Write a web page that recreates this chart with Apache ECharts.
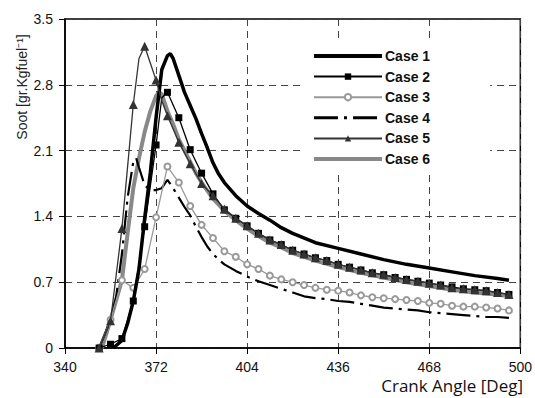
<!DOCTYPE html>
<html>
<head>
<meta charset="utf-8">
<script src="https://cdn.jsdelivr.net/npm/echarts@6/dist/echarts.min.js"></script>
<style>
  html, body { margin: 0; padding: 0; background: #fff; }
  #chart { width: 535px; height: 398px; }
</style>
</head>
<body>
<div id="chart"></div>
<script>
// crank angle ticks and soot ticks
const angleTicks = [340, 372, 404, 436, 468, 500];
const sootTicks = [0, 0.7, 1.4, 2.1, 2.8, 3.5];
const caseNames = ['Case 1', 'Case 2', 'Case 3', 'Case 4', 'Case 5', 'Case 6'];

// Case 1 - thick black
const case1Angle = [357, 360, 362, 364, 366, 368, 370, 372, 374, 376, 377, 378, 380, 382, 384, 386, 388, 390, 392, 394, 396, 400, 404, 408, 412, 416, 420, 428, 436, 444, 452, 460, 468, 476, 484, 492, 496];
const case1Soot = [0, 0.08, 0.26, 0.5, 0.84, 1.38, 1.87, 2.45, 2.96, 3.11, 3.13, 3.08, 2.9, 2.72, 2.58, 2.44, 2.28, 2.13, 1.97, 1.85, 1.76, 1.62, 1.51, 1.43, 1.36, 1.28, 1.22, 1.12, 1.06, 1.0, 0.94, 0.89, 0.85, 0.81, 0.77, 0.74, 0.72];

// Case 2 - black, squares
const case2Angle = [352, 356, 360, 364, 368, 372, 374, 376, 380, 384, 388, 392, 396, 400, 404, 408, 412, 416, 420, 424, 428, 432, 436, 440, 444, 448, 452, 456, 460, 464, 468, 472, 476, 480, 484, 488, 492, 496];
const case2Soot = [0, 0.04, 0.1, 0.5, 1.29, 2.16, 2.66, 2.72, 2.45, 2.11, 1.86, 1.64, 1.47, 1.38, 1.3, 1.22, 1.15, 1.1, 1.04, 1.0, 0.96, 0.93, 0.89, 0.86, 0.83, 0.8, 0.78, 0.75, 0.73, 0.71, 0.69, 0.67, 0.65, 0.63, 0.62, 0.61, 0.59, 0.57];

// Case 3 - gray, open circles
const case3Angle = [352, 356, 360, 364, 368, 372, 376, 380, 384, 388, 392, 396, 400, 404, 408, 412, 416, 420, 424, 428, 432, 436, 440, 444, 448, 452, 456, 460, 464, 468, 472, 476, 480, 484, 488, 492, 496];
const case3Soot = [0, 0.3, 0.72, 0.64, 0.84, 1.39, 1.93, 1.76, 1.51, 1.31, 1.17, 1.03, 0.97, 0.89, 0.84, 0.77, 0.73, 0.7, 0.67, 0.64, 0.62, 0.61, 0.59, 0.56, 0.54, 0.53, 0.52, 0.51, 0.5, 0.48, 0.47, 0.45, 0.44, 0.44, 0.43, 0.42, 0.4];

// Case 4 - black dash-dot
const case4Angle = [352, 356, 358, 360, 362, 364, 365, 366, 368, 370, 372, 374, 376, 378, 380, 382, 384, 386, 388, 390, 392, 394, 396, 400, 404, 408, 412, 416, 420, 424, 428, 432, 436, 440, 444, 448, 452, 456, 460, 464, 468, 472, 476, 480, 484, 488, 492, 496];
const case4Soot = [0, 0.3, 0.55, 1.0, 1.6, 1.98, 2.02, 1.92, 1.73, 1.68, 1.68, 1.7, 1.79, 1.7, 1.6, 1.5, 1.41, 1.29, 1.18, 1.08, 1.0, 0.94, 0.89, 0.82, 0.76, 0.71, 0.67, 0.63, 0.59, 0.55, 0.53, 0.52, 0.5, 0.49, 0.47, 0.45, 0.43, 0.42, 0.41, 0.4, 0.38, 0.37, 0.36, 0.35, 0.34, 0.33, 0.33, 0.32];

// Case 5 - dark gray, triangles
const case5Angle = [352, 356, 360, 364, 366, 368, 370, 372, 374, 376, 380, 384, 388, 392, 396, 400, 404, 408, 412, 416, 420, 424, 428, 432, 436, 440, 444, 448, 452, 456, 460, 464, 468, 472, 476, 480, 484, 488, 492, 496];
const case5Soot = [0, 0.29, 1.27, 2.59, 3.08, 3.21, 3.03, 2.85, 2.63, 2.47, 2.19, 1.96, 1.75, 1.62, 1.48, 1.38, 1.3, 1.22, 1.15, 1.1, 1.04, 1.0, 0.96, 0.93, 0.89, 0.86, 0.83, 0.8, 0.78, 0.75, 0.73, 0.71, 0.69, 0.67, 0.64, 0.63, 0.62, 0.61, 0.59, 0.57];

// Case 6 - thick gray
const case6Angle = [353, 356, 360, 362, 364, 366, 368, 370, 372, 373, 374, 376, 378, 380, 382, 384, 386, 388, 392, 396, 400, 404, 408, 412, 416, 420, 428, 436, 444, 452, 460, 468, 476, 484, 492, 496];
const case6Soot = [0, 0.3, 0.72, 1.22, 1.7, 2.02, 2.3, 2.52, 2.68, 2.72, 2.7, 2.52, 2.38, 2.22, 2.1, 1.98, 1.86, 1.76, 1.59, 1.46, 1.36, 1.27, 1.19, 1.12, 1.07, 1.01, 0.93, 0.86, 0.8, 0.75, 0.7, 0.66, 0.62, 0.59, 0.57, 0.55];

// markers only sit on every 4th degree
function pts(angle, soot, marked) {
    return angle.map((a, i) => (marked && a % 4 !== 0) ? { value: [a, soot[i]], symbol: 'none' } : [a, soot[i]]);
}

const chart = echarts.init(document.getElementById('chart'), null, { renderer: 'svg' });

const dash = { color: '#444', width: 1, type: [7, 5] };

// legend line widths (legend caps them at 2 otherwise), line-only cases get no marker
const legendWidth = [4, 2, 2, 3, 2, 4];
const legendMarker = [false, true, true, false, true, false];

chart.setOption({
    animation: false,
    grid: {
        left: 65,
        right: 13,
        top: 19,
        bottom: 50,
        show: true,
        borderColor: '#000',
        borderWidth: 1.5
    },
    legend: {
        data: caseNames.map((n, i) => ({
            name: n,
            lineStyle: { width: legendWidth[i] },
            itemStyle: legendMarker[i] ? {} : { opacity: 0 }
        })),
        orient: 'vertical',
        left: 303,
        top: 38,
        backgroundColor: '#fff',
        padding: [11, 60, 5, 9],
        itemWidth: 68,
        itemHeight: 8,
        itemGap: 6.6,
        textStyle: {
            fontFamily: 'Liberation Sans, Arial',
            fontSize: 14,
            fontWeight: 'bold',
            lineHeight: 14,
            color: '#111',
            padding: [0, 0, 0, -2]
        }
    },
    xAxis: {
        type: 'value',
        min: 340,
        max: 500,
        interval: 32,
        axisLine: { show: true, lineStyle: { color: '#000', width: 1.5 } },
        axisTick: { show: true, length: 6, lineStyle: { color: '#000', width: 1 } },
        axisLabel: { margin: 12, fontFamily: 'Liberation Sans, Arial', fontSize: 14, color: '#111' },
        splitLine: { show: true, lineStyle: dash }
    },
    yAxis: {
        type: 'value',
        min: 0,
        max: 3.5,
        interval: 0.7,
        axisLine: { show: true, lineStyle: { color: '#000', width: 1.5 } },
        axisTick: { show: true, length: 6, lineStyle: { color: '#000', width: 1 } },
        axisLabel: {
            margin: 12,
            fontFamily: 'Liberation Sans, Arial',
            fontSize: 14,
            color: '#111',
            formatter: v => v === 0 ? '0' : v.toFixed(1)
        },
        splitLine: { show: true, lineStyle: dash }
    },
    graphic: [
        {
            type: 'text',
            x: 22,
            y: 87,
            rotation: Math.PI / 2,
            style: {
                text: 'Soot [gr.Kgfuel\u207B\u00B9]',
                fontFamily: 'Liberation Sans, Arial',
                fontSize: 14,
                fill: '#222',
                align: 'center',
                verticalAlign: 'middle'
            }
        },
        {
            type: 'text',
            right: 12,
            top: 377,
            style: {
                text: 'Crank Angle [Deg]',
                fontFamily: 'Open Sans',
                fontSize: 17,
                fill: '#111'
            }
        }
    ],
    series: [
        {
            name: 'Case 1',
            type: 'line',
            z: 5,
            symbol: 'none',
            data: pts(case1Angle, case1Soot, false),
            lineStyle: { color: '#000', width: 3.5 },
            itemStyle: { color: '#000' }
        },
        {
            name: 'Case 2',
            type: 'line',
            z: 6,
            symbol: 'rect',
            symbolSize: 7,
            data: pts(case2Angle, case2Soot, true),
            lineStyle: { color: '#000', width: 1.3 },
            itemStyle: { color: '#000' }
        },
        {
            name: 'Case 3',
            type: 'line',
            z: 4,
            symbol: 'emptyCircle',
            symbolSize: 6,
            data: pts(case3Angle, case3Soot, true),
            lineStyle: { color: '#999', width: 1.3 },
            itemStyle: { color: '#999', borderWidth: 1.5 }
        },
        {
            name: 'Case 4',
            type: 'line',
            z: 3,
            symbol: 'none',
            data: pts(case4Angle, case4Soot, false),
            lineStyle: { color: '#000', width: 2.2, type: [24, 6, 3, 6] },
            itemStyle: { color: '#000' }
        },
        {
            name: 'Case 5',
            type: 'line',
            z: 7,
            symbol: 'triangle',
            symbolSize: 9,
            data: pts(case5Angle, case5Soot, true),
            lineStyle: { color: '#333', width: 1.3 },
            itemStyle: { color: '#333' }
        },
        {
            name: 'Case 6',
            type: 'line',
            z: 2,
            symbol: 'none',
            data: pts(case6Angle, case6Soot, false),
            lineStyle: { color: '#888', width: 4 },
            itemStyle: { color: '#888' }
        }
    ]
});
</script>
</body>
</html>
